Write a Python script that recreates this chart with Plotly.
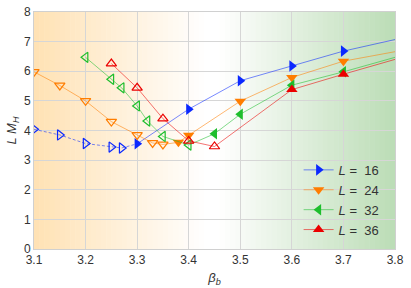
import plotly.graph_objects as go

# ---- data ----
labels = ["16", "24", "32", "36"]
beta16_open = [3.10, 3.15, 3.20, 3.25, 3.27]
mh16_open = [4.04, 3.85, 3.56, 3.44, 3.41]
beta16_fill = [3.30, 3.40, 3.50, 3.60, 3.70]
mh16_fill = [3.55, 4.72, 5.68, 6.18, 6.68]
beta16_end = [3.80]
mh16_end = [7.07]

beta24_open = [3.10, 3.15, 3.20, 3.25, 3.30, 3.33, 3.35]
mh24_open = [5.98, 5.52, 5.00, 4.30, 3.85, 3.58, 3.53]
beta24_fill = [3.38, 3.40, 3.50, 3.60, 3.70]
mh24_fill = [3.60, 3.84, 4.99, 5.79, 6.34]
beta24_end = [3.80]
mh24_end = [6.66]

beta32_open = [3.20, 3.25, 3.27, 3.30, 3.32, 3.35, 3.40]
mh32_open = [6.47, 5.73, 5.44, 4.83, 4.32, 3.80, 3.51]
beta32_fill = [3.45, 3.50, 3.60, 3.70]
mh32_fill = [3.89, 4.55, 5.53, 5.98]
beta32_end = [3.80]
mh32_end = [6.47]

beta36_open = [3.25, 3.30, 3.35, 3.40, 3.45]
mh36_open = [6.26, 5.44, 4.40, 3.65, 3.46]
beta36_fill = [3.60, 3.70]
mh36_fill = [5.38, 5.90]
beta36_end = [3.80]
mh36_end = [6.40]

x_ticks = [3.1, 3.2, 3.3, 3.4, 3.5, 3.6, 3.7, 3.8]
y_ticks = [0, 1, 2, 3, 4, 5, 6, 7, 8]

series = [
    (labels[0], beta16_open, mh16_open, beta16_fill, mh16_fill, beta16_end, mh16_end,
     (10, 40, 255), "triangle-right", "3px,2px"),
    (labels[1], beta24_open, mh24_open, beta24_fill, mh24_fill, beta24_end, mh24_end,
     (255, 125, 0), "triangle-down", "solid"),
    (labels[2], beta32_open, mh32_open, beta32_fill, mh32_fill, beta32_end, mh32_end,
     (30, 190, 45), "triangle-left", "solid"),
    (labels[3], beta36_open, mh36_open, beta36_fill, mh36_fill, beta36_end, mh36_end,
     (235, 0, 0), "triangle-up", "solid"),
]

fig = go.Figure()

# background gradient (orange -> white -> green)
n = 70
x0, x1 = 3.1, 3.8
orange = (255, 226, 180)
green = (188, 221, 182)
white = (255, 255, 255)
for i in range(n):
    a = x0 + (x1 - x0) * i / n
    b = x0 + (x1 - x0) * (i + 1) / n
    m = 0.5 * (a + b)
    if m < 3.43:
        t = (3.43 - m) / (3.43 - 3.1)
        c = tuple(int(white[k] + (orange[k] - white[k]) * t) for k in range(3))
    elif m < 3.46:
        c = white
    else:
        t = (m - 3.46) / (3.8 - 3.46)
        c = tuple(int(white[k] + (green[k] - white[k]) * t) for k in range(3))
    fig.add_shape(type="rect", xref="x", yref="paper", x0=a, x1=b + 0.001, y0=0, y1=1,
                  fillcolor="rgb(%d,%d,%d)" % c, line_width=0, layer="below")

for name, bo, mo, bf, mf, be, me, col, sym, dash in series:
    lc = "rgba(%d,%d,%d,0.55)" % col
    mc = "rgb(%d,%d,%d)" % col
    fig.add_trace(go.Scatter(x=bo + bf[:1], y=mo + mf[:1], mode="lines",
                             line=dict(color=lc, width=1, dash=dash),
                             showlegend=False, hoverinfo="skip", cliponaxis=True))
    fig.add_trace(go.Scatter(x=bf[-1:] + be, y=mf[-1:] + me, mode="lines",
                             line=dict(color=lc, width=1),
                             showlegend=False, hoverinfo="skip", cliponaxis=True))
    fig.add_trace(go.Scatter(x=bo, y=mo, mode="markers",
                             marker=dict(symbol=sym + "-open", size=9, color=mc,
                                         line=dict(width=1.2, color=mc)),
                             showlegend=False, cliponaxis=True))
    fig.add_trace(go.Scatter(x=bf, y=mf, mode="lines+markers",
                             name="<i>L</i> =\u00a0\u00a0" + name,
                             line=dict(color=lc, width=1),
                             marker=dict(symbol=sym, size=10, color=mc,
                                         line=dict(width=0)),
                             cliponaxis=True))

axis_common = dict(showgrid=True, gridcolor="#d6d6d6", gridwidth=1, zeroline=False,
                   showline=True, linecolor="#d0d0d0", linewidth=1, mirror=True,
                   ticks="", automargin=False, ticklabeloverflow="allow",
                   tickfont=dict(family="Liberation Sans, Arial", size=12, color="#333333"))

fig.update_xaxes(range=[3.1, 3.8], tickvals=x_ticks, ticktext=["%.1f" % v for v in x_ticks],
                 title=dict(text="<i>β<sub>b</sub></i>", standoff=6,
                            font=dict(family="Liberation Sans, Arial", size=13, color="#333333")),
                 **axis_common)
fig.update_yaxes(range=[0, 8], tickvals=y_ticks,
                 title=dict(text="<i>L M<sub>H</sub></i>", standoff=4,
                            font=dict(family="Liberation Sans, Arial", size=13, color="#333333")),
                 **axis_common)

fig.update_layout(
    width=411, height=288,
    margin=dict(l=34, r=16, t=12, b=39, autoexpand=False),
    plot_bgcolor="white", paper_bgcolor="white",
    legend=dict(x=0.733, y=0.397, xanchor="left", yanchor="top",
                bgcolor="rgba(0,0,0,0)", borderwidth=0,
                font=dict(family="Liberation Sans, Arial", size=13, color="#333333"),
                tracegroupgap=0, itemwidth=30),
    showlegend=True,
)

# remove the default 8px page margin so the figure fills the window exactly
fig.write_html("out.html", config={"displayModeBar": False},
               post_script="document.body.style.margin='0';")
